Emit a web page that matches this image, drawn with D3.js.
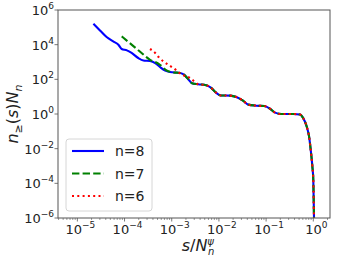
<!DOCTYPE html>
<html>
<head>
<meta charset="utf-8">
<script src="https://cdn.jsdelivr.net/npm/d3@7"></script>
<style>
  body { margin: 0; background: #fff; }
  text { font-family: "DejaVu Sans", sans-serif; fill: #222; }
</style>
</head>
<body>
<svg id="chart" width="342" height="262"></svg>
<script>
// exponents (log10)
const tailS = [-2.82,-2.74,-2.66,-2.57,-2.44,-2.27,-2.17,-2.06,-1.96,-1.77,-1.62,-1.49,-1.38,-1.21,-1.04,-0.92,-0.81,-0.68,-0.43,-0.28,-0.22,-0.14,-0.09,-0.055,-0.02,0.0,0.015,0.025];
const tailN = [2.37,2.27,2.04,1.78,1.72,1.66,1.52,1.23,1.07,1.06,0.97,0.77,0.54,0.48,0.46,0.31,0.08,0.0,0.0,-0.03,-0.21,-0.72,-1.29,-2.06,-3.02,-3.79,-6.0,-7.3];

const n8HeadS = [-4.66,-4.52,-4.38,-4.24,-4.13,-4.06,-3.95,-3.85,-3.71,-3.60,-3.46,-3.35,-3.25,-3.14,-3.04];
const n8HeadN = [5.21,4.82,4.44,4.19,4.0,3.75,3.67,3.52,3.23,3.09,3.06,2.94,2.71,2.50,2.42];

const n7HeadS = [-4.06,-3.80,-3.53,-3.46,-3.35,-3.25,-3.11,-2.97];
const n7HeadN = [4.48,3.89,3.27,3.12,3.0,2.84,2.52,2.40];

const n6HeadS = [-3.46,-3.35,-3.26,-3.16,-3.05,-2.94,-2.84,-2.73,-2.61,-2.52];
const n6HeadN = [3.75,3.52,3.23,3.0,2.80,2.60,2.37,2.21,2.08,1.88];

const seriesNames = ["n=8", "n=7", "n=6"];
const xTickExp = [-5, -4, -3, -2, -1, 0];
const yTickExp = [-6, -4, -2, 0, 2, 4, 6];

function build(hs, hn, tailFrom) {
    const s = hs.concat(tailS.slice(tailFrom));
    const n = hn.concat(tailN.slice(tailFrom));
    return s.map((v, i) => ({s: Math.pow(10, v), n: Math.pow(10, n[i])}));
}
const series = [
    {name: seriesNames[0], color: "#0000ff", dash: null, pts: build(n8HeadS, n8HeadN, 0)},
    {name: seriesNames[1], color: "#008000", dash: "7.4,3.2", pts: build(n7HeadS, n7HeadN, 0)},
    {name: seriesNames[2], color: "#ff0000", dash: "2,3.3", pts: build(n6HeadS, n6HeadN, 4)}
];

const svg = d3.select("#chart");
const m = {left: 58, right: 330, top: 10, bottom: 218};

const x = d3.scaleLog().domain([Math.pow(10, -5.41), Math.pow(10, 0.354)]).range([m.left, m.right]);
const y = d3.scaleLog().domain([1e-6, 1e6]).range([m.bottom, m.top]);

svg.append("clipPath").attr("id", "clip")
    .append("rect").attr("x", m.left).attr("y", m.top)
    .attr("width", m.right - m.left).attr("height", m.bottom - m.top);

const line = d3.line()
    .x(d => x(d.s))
    .y(d => y(d.n))
    .curve(d3.curveMonotoneX);

const plot = svg.append("g").attr("clip-path", "url(#clip)");
series.forEach(sr => {
    plot.append("path")
        .attr("d", line(sr.pts))
        .attr("fill", "none")
        .attr("stroke", sr.color)
        .attr("stroke-width", 2.1)
        .attr("stroke-dasharray", sr.dash)
        .attr("stroke-linejoin", "round");
});

// spines
svg.append("rect")
    .attr("x", m.left).attr("y", m.top)
    .attr("width", m.right - m.left).attr("height", m.bottom - m.top)
    .attr("fill", "none").attr("stroke", "#555").attr("stroke-width", 1);

// x ticks
const minorX = [];
for (let e = -6; e <= 0; e++) for (let k = 2; k <= 9; k++) {
    const v = k * Math.pow(10, e);
    if (x(v) > m.left && x(v) < m.right) minorX.push(v);
}
svg.selectAll(".xminor").data(minorX).enter().append("line")
    .attr("x1", d => x(d)).attr("x2", d => x(d))
    .attr("y1", m.bottom).attr("y2", m.bottom + 2)
    .attr("stroke", "#555").attr("stroke-width", 0.6);
svg.selectAll(".xmajor").data(xTickExp).enter().append("line")
    .attr("x1", d => x(Math.pow(10, d))).attr("x2", d => x(Math.pow(10, d)))
    .attr("y1", m.bottom).attr("y2", m.bottom + 3.5)
    .attr("stroke", "#555").attr("stroke-width", 0.8);

function powLabel(g, e, anchor) {
    const t = g.append("text").attr("font-size", 13).attr("text-anchor", anchor);
    t.append("tspan").text("10");
    t.append("tspan").attr("font-size", 9).attr("dy", -6)
        .text(e < 0 ? "\u2212" + (-e) : String(e));
    return t;
}
xTickExp.forEach(e => {
    const t = powLabel(svg, e, "middle");
    t.attr("x", x(Math.pow(10, e)) + 3).attr("y", 234);
});
yTickExp.forEach(e => {
    svg.append("line")
        .attr("x1", m.left - 3.5).attr("x2", m.left)
        .attr("y1", y(Math.pow(10, e))).attr("y2", y(Math.pow(10, e)))
        .attr("stroke", "#555").attr("stroke-width", 0.8);
    const t = powLabel(svg, e, "end");
    t.attr("x", 54).attr("y", y(Math.pow(10, e)) + 5);
});

// legend
const lg = svg.append("g");
lg.append("rect").attr("x", 66).attr("y", 139).attr("width", 86).attr("height", 72)
    .attr("rx", 3).attr("fill", "#fff").attr("fill-opacity", 0.8)
    .attr("stroke", "#ccc").attr("stroke-width", 0.8);
series.forEach((sr, i) => {
    const ly = 151 + i * 22.5;
    lg.append("line").attr("x1", 72).attr("x2", 104).attr("y1", ly).attr("y2", ly)
        .attr("stroke", sr.color).attr("stroke-width", 2.1)
        .attr("stroke-dasharray", sr.dash);
    lg.append("text").attr("x", 115).attr("y", ly + 5).attr("font-size", 14).text(sr.name);
});

// axis labels
const xl = svg.append("text").attr("font-size", 16).attr("y", 251);
xl.append("tspan").attr("font-style", "italic").text("s");
xl.append("tspan").text("/");
xl.append("tspan").attr("font-style", "italic").text("N");
const xlw = xl.node().getComputedTextLength();
xl.append("tspan").attr("font-style", "italic").attr("font-size", 10).attr("dy", -6).text("\u03c8");
xl.append("tspan").attr("font-style", "italic").attr("font-size", 10).attr("dy", 10)
    .attr("dx", -6).text("n");
xl.attr("x", 198 - (xlw + 7) / 2);

const yl = svg.append("text").attr("font-size", 16)
    .attr("text-anchor", "middle")
    .attr("transform", "translate(18,114) rotate(-90)");
yl.append("tspan").attr("font-style", "italic").text("n");
yl.append("tspan").attr("font-size", 11).attr("dy", 4).text("\u2265");
yl.append("tspan").attr("dy", -4).text("(");
yl.append("tspan").attr("font-style", "italic").text("s");
yl.append("tspan").text(")");
yl.append("tspan").attr("font-style", "italic").text("N");
yl.append("tspan").attr("font-style", "italic").attr("font-size", 11).attr("dy", 4).text("n");
</script>
</body>
</html>
